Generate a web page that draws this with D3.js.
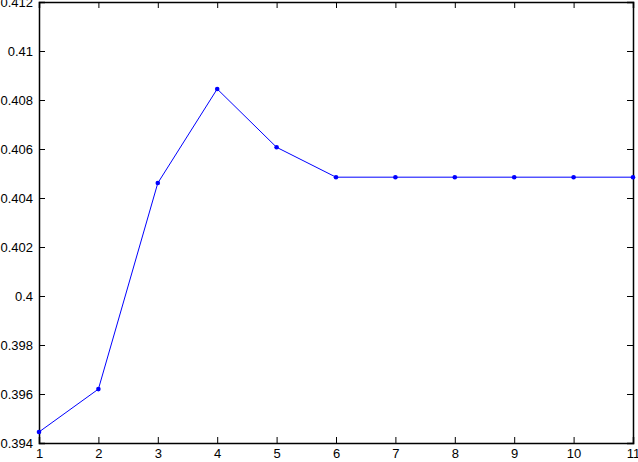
<!DOCTYPE html>
<html>
<head>
<meta charset="utf-8">
<script src="https://cdn.jsdelivr.net/npm/d3@7"></script>
<style>
  body { margin: 0; background: #fff; }
  svg { display: block; }
  .tick text { font-family: "Liberation Sans", Arial, sans-serif; font-size: 13px; fill: #000; }
</style>
</head>
<body>
<svg width="638" height="462"></svg>
<script>
// data
var xValues = [1, 2, 3, 4, 5, 6, 7, 8, 9, 10, 11];
var yValues = [0.39445, 0.3962, 0.40461, 0.40845, 0.40607, 0.40485, 0.40485, 0.40485, 0.40485, 0.40485, 0.40485];
var xTicks = [1, 2, 3, 4, 5, 6, 7, 8, 9, 10, 11];
var yTicks = [0.394, 0.396, 0.398, 0.4, 0.402, 0.404, 0.406, 0.408, 0.41, 0.412];

var svg = d3.select('svg');
var margin = {t: 2, r: 5, b: 19, l: 39};
var width = +svg.attr('width') - margin.l - margin.r;
var height = +svg.attr('height') - margin.t - margin.b;

var g = svg.append('g')
    .attr('transform', 'translate(' + [margin.l, margin.t] + ')');

var xScale = d3.scaleLinear().domain([1, 11]).range([0, width]);
var yScale = d3.scaleLinear().domain([0.394, 0.412]).range([height, 0]);

var fmt = function(d) { return String(+d.toFixed(3)); };

// box with inward ticks on all four sides (matlab style)
g.append('g')
    .attr('transform', 'translate(0,' + height + ')')
    .call(d3.axisBottom(xScale).tickValues(xTicks).tickSize(-6).tickPadding(6).tickFormat(d3.format('d')));
g.append('g')
    .call(d3.axisTop(xScale).tickValues(xTicks).tickSize(-6).tickFormat(''));
g.append('g')
    .call(d3.axisLeft(yScale).tickValues(yTicks).tickSize(-6).tickPadding(6).tickFormat(fmt));
g.append('g')
    .attr('transform', 'translate(' + width + ',0)')
    .call(d3.axisRight(yScale).tickValues(yTicks).tickSize(-6).tickFormat(''));

g.selectAll('.domain').attr('stroke', '#000').attr('stroke-width', 1.5);
g.selectAll('.tick line').attr('stroke', '#000');

var points = xValues.map(function(x, i) { return {x: x, y: yValues[i]}; });

var line = d3.line()
    .x(d => xScale(d.x))
    .y(d => yScale(d.y));

g.append('path')
    .datum(points)
    .attr('d', line)
    .attr('fill', 'none')
    .attr('stroke', '#0000ff')
    .attr('stroke-width', 1);

g.selectAll('.dot')
    .data(points)
    .enter()
    .append('circle')
    .attr('class', 'dot')
    .attr('cx', d => xScale(d.x))
    .attr('cy', d => yScale(d.y))
    .attr('r', 2.3)
    .attr('fill', '#0000ff');
</script>
</body>
</html>
